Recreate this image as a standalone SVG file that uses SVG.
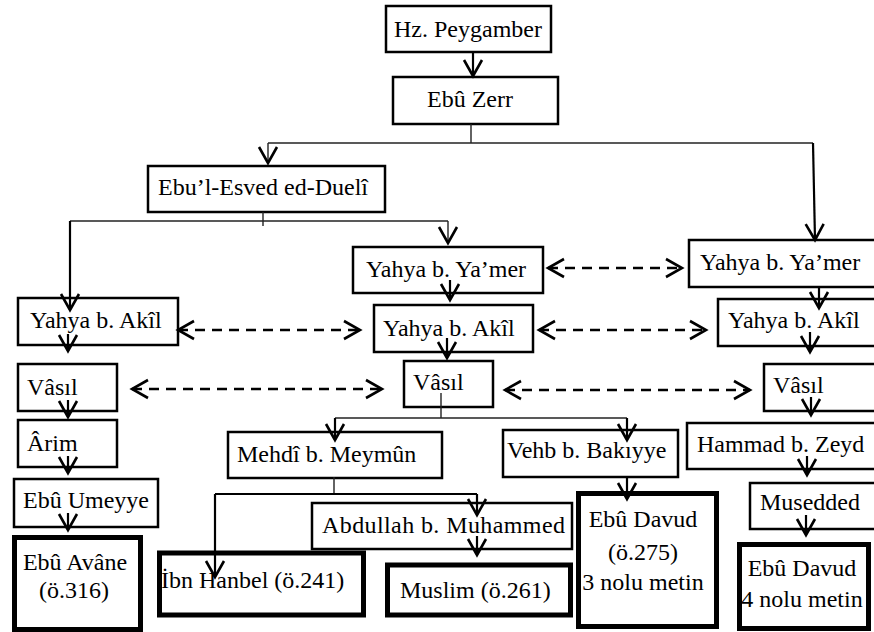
<svg xmlns="http://www.w3.org/2000/svg" width="874" height="632" viewBox="0 0 874 632" font-family="'Liberation Serif', 'Times New Roman', Times, serif">
<style>
.box{fill:#fff;stroke:#000;stroke-width:2.5}
.thick{fill:#fff;stroke:#000;stroke-width:5}
text{font-size:24px;fill:#000}
.c{text-anchor:middle}
.ln{fill:none;stroke:#000;stroke-width:2.2}
.thin{fill:none;stroke:#222;stroke-width:1.4}
.dash{fill:none;stroke:#000;stroke-width:2.5;stroke-dasharray:10 7}
</style>
<defs>
<marker id="ah" markerUnits="userSpaceOnUse" markerWidth="40" markerHeight="40" refX="0" refY="0" orient="auto-start-reverse" overflow="visible">
<path d="M-16,-9 L0,0 L-16,9" fill="none" stroke="#000" stroke-width="2.6" stroke-dasharray="none"/>
</marker>
</defs>
<rect width="874" height="632" fill="#fff"/>
<g id="n1"><rect class="box" x="386" y="6" width="165" height="46"/><text class="c" x="468" y="37">Hz. Peygamber</text></g>
<g id="n2"><rect class="box" x="393" y="77" width="165" height="47"/><text class="c" x="470" y="107">Ebû Zerr</text></g>
<g id="n3"><rect class="box" x="148" y="166" width="237" height="46"/><text class="c" x="263" y="195">Ebu’l-Esved ed-Duelî</text></g>
<g id="n4"><rect class="box" x="353" y="247" width="190" height="46"/><text class="c" x="446" y="277">Yahya b. Ya’mer</text></g>
<g id="n5"><rect class="box" x="689" y="240" width="190" height="47"/><text x="700" y="270">Yahya b. Ya’mer</text></g>
<g id="n6"><rect class="box" x="18" y="298" width="160" height="47"/><text x="30" y="328">Yahya b. Akîl</text></g>
<g id="n7"><rect class="box" x="374" y="305" width="159" height="47"/><text x="383" y="336">Yahya b. Akîl</text></g>
<g id="n8"><rect class="box" x="718" y="299" width="160" height="47"/><text x="728" y="328">Yahya b. Akîl</text></g>
<g id="n9"><rect class="box" x="18" y="364" width="99" height="47"/><text x="27" y="395">Vâsıl</text></g>
<g id="n10"><rect class="box" x="404" y="361" width="89" height="46"/><text x="413" y="390">Vâsıl</text></g>
<g id="n11"><rect class="box" x="764" y="364" width="115" height="47"/><text x="773" y="393">Vâsıl</text></g>
<g id="n12"><rect class="box" x="18" y="420" width="99" height="47"/><text x="27" y="451">Ârim</text></g>
<g id="n13"><rect class="box" x="14" y="479" width="144" height="48"/><text x="23" y="508">Ebû Umeyye</text></g>
<g id="n14"><rect class="thick" x="14.5" y="537.5" width="126" height="92"/><text class="c" x="75" y="570">Ebû Avâne</text><text class="c" x="74" y="598">(ö.316)</text></g>
<g id="n15"><rect class="box" x="228" y="432" width="214" height="46"/><text x="237" y="462">Mehdî b. Meymûn</text></g>
<g id="n16"><rect class="box" x="503" y="430" width="175" height="47"/><text x="507" y="458">Vehb b. Bakıyye</text></g>
<g id="n17"><rect class="box" x="687" y="423" width="190" height="46"/><text x="697" y="452">Hammad b. Zeyd</text></g>
<g id="n18"><rect class="box" x="750" y="483" width="128" height="46"/><text x="760" y="510">Musedded</text></g>
<g id="n19"><rect class="box" x="312" y="503" width="260" height="46"/><text x="322" y="533" textLength="243">Abdullah b. Muhammed</text></g>
<g id="n20"><rect class="thick" x="159.5" y="553" width="204" height="62"/><text x="161" y="588">İbn Hanbel (ö.241)</text></g>
<g id="n21"><rect class="thick" x="387.5" y="565" width="183" height="50"/><text x="400" y="598">Muslim (ö.261)</text></g>
<g id="n22"><rect class="thick" x="578.5" y="493.5" width="138" height="133"/><text class="c" x="643" y="527">Ebû Davud</text><text class="c" x="643" y="560">(ö.275)</text><text class="c" x="643" y="590">3 nolu metin</text></g>
<g id="n23"><rect class="thick" x="739.5" y="544.5" width="129" height="84"/><text class="c" x="802" y="576">Ebû Davud</text><text class="c" x="802" y="607">4 nolu metin</text></g>
<g id="connectors">
<path class="ln" d="M473,52 V76" marker-end="url(#ah)"/>
<path class="thin" d="M471,124 V143"/>
<path class="thin" d="M268,143 H813"/>
<path class="thin" d="M268,143 V163" marker-end="url(#ah)"/>
<path class="ln" d="M813,143 L815,240" marker-end="url(#ah)"/>
<path class="thin" d="M263,212 V226"/>
<path class="thin" d="M70,221 H448"/>
<path class="ln" d="M70,221 V310" marker-end="url(#ah)"/>
<path class="thin" d="M448,221 V243" marker-end="url(#ah)"/>
<path class="ln" d="M450,280 V300" marker-end="url(#ah)"/>
<path class="ln" d="M447,338 V358" marker-end="url(#ah)"/>
<path class="ln" d="M819,288 V308" marker-end="url(#ah)"/>
<path class="ln" d="M810,332 V352" marker-end="url(#ah)"/>
<path class="ln" d="M68,334 V351" marker-end="url(#ah)"/>
<path class="ln" d="M68,400 V417" marker-end="url(#ah)"/>
<path class="ln" d="M68,456 V473" marker-end="url(#ah)"/>
<path class="ln" d="M68,513 V530" marker-end="url(#ah)"/>
<path class="thin" d="M441,393 V418"/>
<path class="thin" d="M335,418 H627"/>
<path class="ln" d="M335,418 V440" marker-end="url(#ah)"/>
<path class="ln" d="M627,418 V440" marker-end="url(#ah)"/>
<path class="thin" d="M334,477 V494"/>
<path class="ln" d="M215,494 H477"/>
<path class="ln" d="M215,494 V577" marker-end="url(#ah)"/>
<path class="ln" d="M477,494 V515" marker-end="url(#ah)"/>
<path class="ln" d="M477,536 V555" marker-end="url(#ah)"/>
<path class="ln" d="M627,477 V499" marker-end="url(#ah)"/>
<path class="ln" d="M811,397 V415" marker-end="url(#ah)"/>
<path class="ln" d="M807,456 V475" marker-end="url(#ah)"/>
<path class="ln" d="M806,515 V535" marker-end="url(#ah)"/>
<path class="dash" d="M548,268 H682" marker-start="url(#ah)" marker-end="url(#ah)"/>
<path class="dash" d="M178,330 H360" marker-start="url(#ah)" marker-end="url(#ah)"/>
<path class="dash" d="M539,330 H706" marker-start="url(#ah)" marker-end="url(#ah)"/>
<path class="dash" d="M132,389 H382" marker-start="url(#ah)" marker-end="url(#ah)"/>
<path class="dash" d="M505,390 H750" marker-start="url(#ah)" marker-end="url(#ah)"/>
</g>
</svg>
